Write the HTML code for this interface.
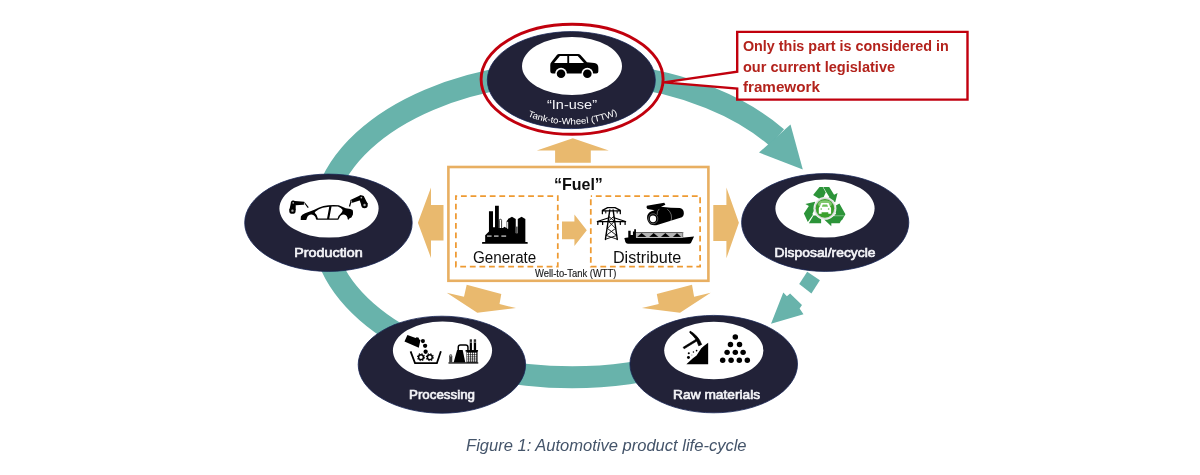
<!DOCTYPE html>
<html><head><meta charset="utf-8">
<style>
html,body{margin:0;padding:0;background:#fff;}
body{width:1200px;height:475px;overflow:hidden;font-family:"Liberation Sans",sans-serif;}
svg{display:block;}
text{font-family:"Liberation Sans",sans-serif;}
</style></head><body>
<svg width="1200" height="475" viewBox="0 0 1200 475">
<defs>
<filter id="soft" x="-5%" y="-5%" width="110%" height="110%"><feGaussianBlur stdDeviation="0.6"/></filter>
<filter id="soft2" x="-5%" y="-20%" width="110%" height="140%"><feGaussianBlur stdDeviation="0.35"/></filter>
<filter id="soft3" x="0" y="0" width="1200" height="475" filterUnits="userSpaceOnUse"><feGaussianBlur stdDeviation="0.3"/></filter>
</defs>
<rect width="1200" height="475" fill="#fff"/>
<g filter="url(#soft)">
<!-- teal ring -->
<g id="ring" fill="none" stroke="#67b3ab" stroke-width="22">
<!-- main arc from head base (t=36deg) counter-clockwise through top, left, bottom to raw materials -->
<path d="M 776.8 137.5 A 250 152.4 0 1 0 714.0 350.3"/>
</g>
<!-- arrow head to disposal -->
<polygon points="790.5,124.4 802.8,169.6 759,152.6" fill="#67b3ab"/>
<!-- dashed arrow -->
<polygon points="807.2,271.8 819.9,280.3 811.4,293.4 799.2,284" fill="#67b3ab"/>
<polygon points="771,323.7 783.3,292.4 786.9,296.3 790.1,293.6 802,304.9 799.6,308.4 803.5,314.3" fill="#67b3ab"/>

<!-- orange block arrows -->
<g fill="#e9b96e">
<polygon points="572.8,138.3 608.8,150.4 590.8,150.4 590.8,162.7 555.1,162.7 555.1,150.4 536.8,150.4"/>
<polygon points="417.9,222.7 431,187.5 431,205.1 443.5,205.1 443.5,240.6 431,240.6 431,258"/>
<polygon points="738.9,222.7 726.4,187.5 726.4,205.1 713.3,205.1 713.3,241.1 726.4,241.1 726.4,258.3"/>
<polygon points="466.7,284.7 501.3,294 499.5,304.1 516,308.1 477.3,312.7 446.7,292.7 464,296.7"/>
<polygon points="692,284.7 656.8,294 658.7,304.1 641.9,308.1 680,312.7 710.7,292.7 694.1,296.7"/>
</g>
<!-- fuel box -->
<rect x="448.4" y="167" width="260" height="113.8" fill="#fff" stroke="#e8af62" stroke-width="2.6"/>

<polygon points="562,221.5 574.4,221.5 574.4,214.5 586.8,230.3 574.4,246 574.4,239.3 562,239.3" fill="#e9b96e"/>
<!-- dark ellipses -->
<g fill="#212338" stroke="#1a2756" stroke-width="0.8">
<ellipse cx="571.3" cy="80.1" rx="84" ry="48.5"/>
<ellipse cx="328.45" cy="222.75" rx="83.75" ry="48.65"/>
<ellipse cx="825.2" cy="222.5" rx="83.6" ry="48.9"/>
<ellipse cx="441.9" cy="364.7" rx="83.7" ry="48.5"/>
<ellipse cx="713.7" cy="364.1" rx="83.8" ry="48.7"/>
</g>
<g fill="#fff">
<ellipse cx="572" cy="66" rx="50" ry="29"/>
<ellipse cx="329" cy="208.6" rx="49.6" ry="29"/>
<ellipse cx="825" cy="208.6" rx="49.6" ry="29"/>
<ellipse cx="442.5" cy="350.5" rx="49.6" ry="29"/>
<ellipse cx="713.8" cy="350.5" rx="49.6" ry="28.8"/>
</g>
<!-- red ellipse + callout -->
<ellipse cx="572.1" cy="79.3" rx="91" ry="55" fill="none" stroke="#c1000f" stroke-width="2.9"/>
<path d="M737.2 31.9 H967.5 V99.6 H737.2 V88.5 L663.8 82.4 L737.2 71.6 Z" fill="#fff" stroke="#c1000f" stroke-width="2.4"/>
</g>


<g fill="none" stroke="#ee9a32" stroke-width="1.75" stroke-dasharray="5.8 3.8" stroke-dashoffset="4.55">
<rect x="455.9" y="196" width="101.9" height="70.6"/>
<rect x="590.8" y="196" width="109.3" height="70.6"/>
</g>
<!-- ICONS -->
<g id="icons">
<!-- car in-use -->
<g transform="translate(530,40) scale(0.11583)" fill="#000">
<path fill-rule="evenodd" d="M250 120 H415 Q428 120 436 130 L492 192 L555 198 Q590 202 590 240 V272 Q590 290 572 290 H195 Q175 290 175 270 V215 Q175 200 185 190 L232 130 Q240 120 250 120 Z M258 138 L208 198 H322 V138 Z M338 138 V198 H466 L412 138 Z"/>
<circle cx="268" cy="290" r="50" fill="#fff"/><circle cx="495" cy="290" r="50" fill="#fff"/>
<circle cx="268" cy="292" r="37"/><circle cx="495" cy="292" r="37"/>
</g>
<!-- production -->
<g transform="translate(283,190) scale(0.08425)" fill="#000">
<path fill-rule="evenodd" d="M210 356 L212 316 Q222 290 262 276 Q320 252 372 234 Q430 205 480 190 Q560 172 662 180 Q705 195 745 216 L800 226 L826 236 Q836 262 830 292 L812 326 L790 336 L778 352 L768 346 Q765 295 722 290 Q680 292 668 332 L656 352 L400 354 L392 346 Q385 295 338 290 Q295 292 284 332 L276 356 Z M386 256 Q425 228 472 212 L549 198 L523 338 L414 338 Q405 292 376 270 Z M576 197 L652 197 Q692 212 708 236 Q704 262 686 280 Q660 300 648 338 L549 338 Z"/>
<circle cx="112" cy="245" r="38"/>
<path d="M76 238 L96 140 L152 158 L150 240 Z"/>
<circle cx="121" cy="152" r="27"/>
<path d="M108 127 L252 140 L262 160 L246 174 L150 180 Z"/>
<path d="M252 156 L262 150 L306 206 L294 214 Z"/>
<circle cx="112" cy="245" r="14" fill="#a8a8a8"/><circle cx="121" cy="152" r="10" fill="#b5b5b5"/><circle cx="254" cy="158" r="7" fill="#c8c8c8"/>
<circle cx="968" cy="178" r="38"/>
<path d="M932 188 L903 100 L957 68 L1006 165 Z"/>
<circle cx="930" cy="90" r="27"/>
<path d="M926 60 L800 120 L798 140 L826 152 L918 122 Z"/>
<path d="M800 134 L814 140 L796 198 L782 194 Z"/>
<circle cx="968" cy="178" r="14" fill="#a8a8a8"/><circle cx="930" cy="90" r="10" fill="#b5b5b5"/><circle cx="812" cy="133" r="7" fill="#c8c8c8"/>
</g>
<!-- recycle -->
<g transform="translate(785,180) scale(0.11577)">
<g fill="#2c9439">
<path d="M298 60 L326 60 L352 108 L320 176 L243 130 Z"/>
<path d="M330 60 L382 60 L424 128 L454 112 L434 192 L352 168 L384 150 L356 104 Z"/>
<path d="M470 203 L522 295 L492 348 L428 348 L428 296 L442 296 L416 234 Z"/>
<path d="M506 310 L472 374 L400 374 L400 400 L338 342 L400 282 L400 310 Z"/>
<path d="M197 362 L163 290 L206 224 L176 208 L258 188 L272 268 L254 258 L238 290 L240 302 Z"/>
<path d="M206 374 L246 306 L312 306 L312 374 Z"/>
<path d="M404 309 L508 309" stroke="#fff" stroke-width="3.5" fill="none"/>
</g>
<circle cx="345" cy="245" r="99" fill="#f1f2f1"/>
<circle cx="345" cy="245" r="91" fill="#d3d8d4"/>
<circle cx="345" cy="245" r="80" fill="#3a9f2c"/>
<ellipse cx="345" cy="208" rx="60" ry="34" fill="#9ad586" opacity="0.75"/>
<path d="M300 230 L314 198 H376 L390 230 Q398 235 398 246 V292 H374 V278 H316 V292 H292 V246 Q292 235 300 230 Z" fill="#fff"/>
<path d="M318 230 L326 212 H364 L372 230 Z" fill="#6cc058"/>
<circle cx="313" cy="251" r="7" fill="#5cb84a"/><circle cx="377" cy="251" r="7" fill="#5cb84a"/>
</g>
<!-- processing -->
<g transform="translate(395,325) scale(0.10526)" fill="#000">
<path d="M118 95 L196 124 L206 116 L226 122 L228 136 L242 142 L226 216 L90 156 Z"/>
<circle cx="265" cy="153" r="19.5"/><circle cx="286" cy="198" r="20.5"/><circle cx="291" cy="254" r="20.5"/>
<path d="M148 250 L190 362 H398 L436 250" fill="none" stroke="#000" stroke-width="17" stroke-linejoin="miter"/>
<g fill="none" stroke="#000">
<circle cx="247" cy="306" r="23" stroke-width="14"/><circle cx="247" cy="306" r="33" stroke-width="10" stroke-dasharray="13 12.9"/>
<circle cx="331" cy="306" r="23" stroke-width="14"/><circle cx="331" cy="306" r="33" stroke-width="10" stroke-dasharray="13 12.9"/>
</g>
<rect x="508" y="354.5" width="283" height="12"/>
<path d="M515 356 V296 Q515 278 529.5 278 Q544 278 544 296 V356 Z" fill="#3a3a3a"/>
<ellipse cx="529.5" cy="292" rx="9" ry="9" fill="#9a9a9a"/>
<path d="M590 237 H643 L668 356 H557 Z"/>
<path d="M601 240 V212 Q601 191 622 191 H671 Q693 191 693 212 V245" fill="none" stroke="#000" stroke-width="14"/>
<rect x="710" y="137" width="21" height="108"/><rect x="748.5" y="137" width="22" height="108"/>
<g fill="#fff" opacity="0.8"><rect x="710" y="150" width="21" height="5"/><rect x="748.5" y="150" width="22" height="5"/><rect x="710" y="166" width="21" height="5"/><rect x="748.5" y="166" width="22" height="5"/></g>
<rect x="670" y="238" width="119" height="14"/>
<rect x="679" y="245" width="105" height="112"/>
<g fill="#fff"><rect x="682.5" y="262.4" width="13.6" height="13.2"/><rect x="701.7" y="262.4" width="13.6" height="13.2"/><rect x="720.9" y="262.4" width="13.6" height="13.2"/><rect x="740.1" y="262.4" width="13.6" height="13.2"/><rect x="759.3" y="262.4" width="13.6" height="13.2"/><rect x="682.5" y="280.4" width="13.6" height="13.2"/><rect x="701.7" y="280.4" width="13.6" height="13.2"/><rect x="720.9" y="280.4" width="13.6" height="13.2"/><rect x="740.1" y="280.4" width="13.6" height="13.2"/><rect x="759.3" y="280.4" width="13.6" height="13.2"/><rect x="682.5" y="298.4" width="13.6" height="13.2"/><rect x="701.7" y="298.4" width="13.6" height="13.2"/><rect x="720.9" y="298.4" width="13.6" height="13.2"/><rect x="740.1" y="298.4" width="13.6" height="13.2"/><rect x="759.3" y="298.4" width="13.6" height="13.2"/><rect x="682.5" y="316.4" width="13.6" height="13.2"/><rect x="701.7" y="316.4" width="13.6" height="13.2"/><rect x="720.9" y="316.4" width="13.6" height="13.2"/><rect x="740.1" y="316.4" width="13.6" height="13.2"/><rect x="759.3" y="316.4" width="13.6" height="13.2"/><rect x="682.5" y="334.4" width="13.6" height="13.2"/><rect x="701.7" y="334.4" width="13.6" height="13.2"/><rect x="720.9" y="334.4" width="13.6" height="13.2"/><rect x="740.1" y="334.4" width="13.6" height="13.2"/><rect x="759.3" y="334.4" width="13.6" height="13.2"/></g>
</g>
<!-- raw materials -->
<g transform="translate(665,325) scale(0.10526)" fill="#000">
<path d="M410 168 V372 H203 L262 318 L300 290 L318 262 L345 222 L372 198 Z"/>
<path d="M172 212 L296 135 L306 150 L182 226 Z" stroke="#000" stroke-width="6" stroke-linejoin="round"/>
<path d="M238 58 Q315 100 348 185 L320 197 Q298 122 236 74 Z" stroke="#000" stroke-width="7" stroke-linejoin="round"/>
<circle cx="226" cy="268" r="10"/><circle cx="223" cy="308" r="14"/><circle cx="270" cy="256" r="7"/><circle cx="300" cy="243" r="8"/><circle cx="255" cy="285" r="5" fill="#777"/>
<g>
<circle cx="668" cy="113" r="26"/>
<circle cx="622" cy="185" r="26"/><circle cx="708" cy="185" r="26"/>
<circle cx="590" cy="260" r="26"/><circle cx="668" cy="260" r="26"/><circle cx="742" cy="260" r="26"/>
<circle cx="548" cy="335" r="26"/><circle cx="628" cy="335" r="26"/><circle cx="706" cy="335" r="26"/><circle cx="782" cy="335" r="26"/>
</g>
</g>

<!-- generate -->
<g transform="translate(470,195) scale(0.12638)" fill="#000">
<rect x="95" y="372" width="362" height="14" rx="5"/>
<path d="M120 378 V318 L150 288 V128 H182 V255 H198 V85 H228 V262 H262 L270 252 L290 262 V205 L300 195 V190 L332 172 L362 190 V300 H378 V190 L408 172 L438 190 V378 Z"/>
<path d="M232 262 V200 Q232 192 241 192 Q250 192 250 200 V262" fill="none" stroke="#000" stroke-width="6"/>
<rect x="294" y="212" width="8" height="55" fill="#fff"/>
<rect x="362" y="250" width="16" height="55" fill="#555"/>
<g fill="#fff"><rect x="135" y="321" width="36" height="8"/><rect x="190" y="321" width="36" height="8"/><rect x="248" y="321" width="38" height="8"/></g>
</g>
<!-- distribute -->
<g transform="translate(590,195) scale(0.12629)" fill="#000">
<!-- pylon -->
<g fill="none" stroke="#000" stroke-width="11" stroke-linejoin="round" stroke-linecap="round">
<path d="M157 118 L122 352 M183 118 L216 352"/>
<path d="M150 170 L190 205 M188 170 L148 205 M146 208 L200 262 M194 208 L140 262 M138 265 L208 318 M202 265 L130 318 M128 320 L214 350 M212 320 L124 350" stroke-width="7"/>
<path d="M140 100 H198 L240 122 V148 M140 100 L98 122 V148 M98 126 H240" stroke-width="10"/>
<path d="M125 128 V142 M215 128 V142" stroke-width="8"/>
<path d="M58 210 H282 M58 210 L150 180 M282 210 L190 180 M62 210 V233 M278 210 V233 M100 212 V233 M240 212 V233" stroke-width="10"/>
</g>
<!-- pipes -->
<path d="M450 86 L588 62 L597 78 L562 94 L640 100 L712 103 Q746 112 743 150 Q740 170 728 176 L538 235 Q505 246 476 232 Q446 205 453 165 Q462 136 492 127 L512 121 L455 111 Q443 100 450 86 Z"/>
<ellipse cx="500" cy="188" rx="37" ry="40" fill="none" stroke="#fff" stroke-width="3" opacity="0.85"/>
<ellipse cx="499" cy="189" rx="25" ry="27.5" fill="#fff"/>
<path d="M548 110 Q528 130 532 158" fill="none" stroke="#fff" stroke-width="3.5" opacity="0.9"/>
<path d="M612 112 Q660 150 640 212" fill="none" stroke="#fff" stroke-width="3.5" opacity="0.9"/>
<!-- ship -->
<path d="M272 340 L300 336 H745 L824 329 L800 379 Q795 386 785 386 H300 Q285 386 280 372 Z"/>
<path d="M303 345 V283 H322 V316 H340 V290 H350 V272 H364 V345 Z"/>
<rect x="364" y="299" width="372" height="38" fill="#b4b4b4"/>
<rect x="364" y="293" width="374" height="7.5" fill="#5a5a5a"/>
<rect x="730" y="293" width="8" height="45" fill="#777"/>
<path d="M372.0 333 L409.0 301 L448.7 333 Z M467.2 333 L504.1 301 L543.7 333 Z M559.5 333 L596.5 301 L633.4 333 Z M654.6 333 L688.9 301 L723.2 333 Z " fill="#000" stroke="#fff" stroke-width="1.2" stroke-linejoin="miter"/>
<rect x="364" y="332.5" width="372" height="3" fill="#eee"/>
</g>
</g>
<!-- TEXT -->
<g filter="url(#soft3)">
<g font-weight="bold" fill="#b3231c" font-size="15.5">
<text x="742.9" y="51.3" textLength="206" lengthAdjust="spacingAndGlyphs">Only this part is considered in</text>
<text x="742.9" y="71.7" textLength="152.2" lengthAdjust="spacingAndGlyphs">our current legislative</text>
<text x="742.9" y="91.5" textLength="77" lengthAdjust="spacingAndGlyphs">framework</text>
</g>
<g fill="#f4f4f8" stroke="#f4f4f8" stroke-width="0.62" font-size="12.6" text-anchor="middle">
<text x="328.5" y="256.7" textLength="68.5" lengthAdjust="spacingAndGlyphs">Production</text>
<text x="825" y="256.7" textLength="101" lengthAdjust="spacingAndGlyphs">Disposal/recycle</text>
<text x="442" y="398.5" textLength="66" lengthAdjust="spacingAndGlyphs">Processing</text>
<text x="716.6" y="398.6" textLength="87" lengthAdjust="spacingAndGlyphs">Raw materials</text>
</g>
<text x="572" y="109.3" fill="#f4f4f8" font-size="13.1" text-anchor="middle" textLength="50" lengthAdjust="spacingAndGlyphs">“In-use”</text>
<path id="ttwp" d="M 527.6 115.9 A 73 43.2 0 0 0 617.5 114.5" fill="none"/>
<text fill="#fff" font-size="8.9"><textPath href="#ttwp" startOffset="0" textLength="92.5" lengthAdjust="spacingAndGlyphs">Tank-to-Wheel (TTW)</textPath></text>
<text x="578.4" y="189.6" fill="#111" font-weight="bold" font-size="16.6" text-anchor="middle" textLength="49" lengthAdjust="spacingAndGlyphs">“Fuel”</text>
<text x="504.6" y="262.5" fill="#111" font-size="15.8" text-anchor="middle" textLength="63.4" lengthAdjust="spacingAndGlyphs">Generate</text>
<text x="647.1" y="262.5" fill="#111" font-size="15.8" text-anchor="middle" textLength="68.4" lengthAdjust="spacingAndGlyphs">Distribute</text>
<text x="575.7" y="276.6" fill="#1a1a1a" stroke="#1a1a1a" stroke-width="0.15" font-size="10.4" text-anchor="middle" textLength="81.4" lengthAdjust="spacingAndGlyphs">Well-to-Tank (WTT)</text>
<text x="606.3" y="450.9" fill="#44546a" font-style="italic" font-size="16" text-anchor="middle" textLength="280.5" lengthAdjust="spacingAndGlyphs">Figure 1: Automotive product life-cycle</text>
</g>
</svg>
</body></html>
